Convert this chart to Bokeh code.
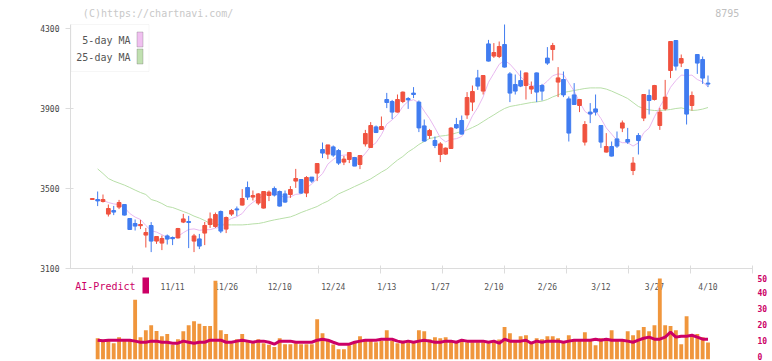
from bokeh.plotting import figure
from bokeh.models import Range1d, FixedTicker, ColumnDataSource, Label, BoxAnnotation, LinearAxis
from bokeh.layouts import column
from bokeh.embed import file_html
from bokeh.resources import INLINE
from bokeh.core.properties import value

# ---------------- data ----------------
idx = list(range(116))
opens = [3445, 3445, 3435, 3372, 3390, 3407, 3420, 3350, 3325, 3314,
         3267, 3315, 3237, 3227, 3263, 3255, 3253, 3332, 3335, 3237,
         3248, 3277, 3320, 3310, 3385, 3297, 3372, 3398, 3417, 3505,
         3457, 3427, 3402, 3465, 3500, 3485, 3473, 3470, 3537, 3545,
         3477, 3557, 3577, 3695, 3672, 3708, 3690, 3632, 3645, 3655,
         3620, 3723, 3705, 3808, 3795, 3945, 3935, 3882, 3935, 3950,
         3977, 3932, 3813, 3765, 3740, 3670, 3672, 3700, 3820, 3840,
         3868, 3932, 4053, 3987, 4223, 4162, 4160, 4220, 4073, 4020,
         4040, 4015, 3997, 4078, 4015, 4152, 4195, 4032, 4045, 3948,
         3968, 3915, 3732, 3882, 3898, 3815, 3682, 3710, 3748, 3802,
         3745, 3590, 3765, 3852, 3965, 3945, 3815, 3898, 4090, 4240,
         4127, 4095, 3915, 4170, 4145, 4027]
highs = [3452, 3485, 3470, 3420, 3413, 3443, 3422, 3352, 3345, 3343,
         3303, 3332, 3260, 3265, 3270, 3260, 3303, 3373, 3363, 3273,
         3273, 3333, 3380, 3380, 3390, 3360, 3397, 3410, 3497, 3535,
         3490, 3477, 3485, 3490, 3510, 3490, 3490, 3512, 3598, 3547,
         3562, 3557, 3625, 3730, 3718, 3715, 3697, 3663, 3680, 3658,
         3665, 3793, 3832, 3815, 3860, 3978, 3943, 3970, 3985, 3957,
         4007, 3940, 3845, 3798, 3760, 3732, 3705, 3807, 3853, 3865,
         3982, 4015, 4093, 4065, 4243, 4227, 4235, 4320, 4082, 4070,
         4090, 4080, 4035, 4080, 4023, 4207, 4228, 4107, 4085, 3960,
         4027, 3948, 3837, 3927, 3970, 3815, 3777, 3735, 3785, 3840,
         3803, 3657, 3777, 3972, 3995, 4018, 3903, 4043, 4237, 4242,
         4170, 4098, 3985, 4170, 4160, 4065]
lows = [3443, 3412, 3430, 3360, 3367, 3397, 3365, 3293, 3290, 3297,
        3205, 3182, 3223, 3192, 3220, 3217, 3250, 3327, 3202, 3182,
        3197, 3217, 3303, 3303, 3277, 3277, 3363, 3362, 3415, 3443,
        3440, 3417, 3400, 3437, 3460, 3410, 3428, 3453, 3503, 3473,
        3457, 3528, 3537, 3652, 3647, 3658, 3618, 3617, 3627, 3612,
        3597, 3710, 3703, 3777, 3795, 3902, 3847, 3880, 3927, 3898,
        3952, 3782, 3735, 3748, 3702, 3632, 3668, 3698, 3798, 3770,
        3848, 3887, 3993, 3970, 4135, 4153, 4152, 4105, 3932, 3970,
        4007, 3945, 3973, 3932, 3940, 4118, 4140, 3957, 3957, 3735,
        3918, 3882, 3715, 3827, 3865, 3703, 3680, 3660, 3703, 3782,
        3723, 3567, 3670, 3837, 3870, 3940, 3793, 3890, 4052, 4090,
        4107, 3820, 3890, 4073, 4023, 4007]
closes = [3450, 3438, 3445, 3400, 3382, 3430, 3367, 3295, 3312, 3320,
          3280, 3237, 3260, 3250, 3247, 3249, 3300, 3348, 3330, 3263,
          3212, 3315, 3348, 3370, 3287, 3355, 3390, 3393, 3450, 3457,
          3465, 3473, 3485, 3482, 3467, 3412, 3432, 3495, 3550, 3477,
          3555, 3537, 3625, 3677, 3718, 3667, 3627, 3647, 3680, 3612,
          3665, 3775, 3815, 3780, 3810, 3930, 3882, 3945, 3982, 3943,
          3970, 3803, 3737, 3790, 3715, 3723, 3702, 3802, 3803, 3772,
          3955, 3985, 4012, 4065, 4137, 4180, 4210, 4107, 3977, 3987,
          4012, 4078, 4010, 3982, 3987, 4127, 4215, 4053, 3968, 3777,
          3920, 3945, 3820, 3873, 3882, 3732, 3710, 3662, 3712, 3828,
          3732, 3627, 3740, 3970, 3940, 4015, 3882, 3957, 4235, 4112,
          4150, 3872, 3965, 4127, 4052, 4022]

ma_idx = list(range(1, 116))
ma5 = [3445, 3440, 3430, 3423, 3419, 3405, 3375, 3357, 3345, 3315,
       3289, 3282, 3269, 3255, 3249, 3261, 3279, 3295, 3298, 3291,
       3294, 3294, 3302, 3306, 3335, 3350, 3359, 3375, 3409, 3431,
       3448, 3466, 3472, 3474, 3464, 3456, 3458, 3471, 3473, 3502,
       3523, 3549, 3574, 3622, 3645, 3663, 3667, 3668, 3647, 3646,
       3676, 3709, 3729, 3769, 3822, 3843, 3869, 3910, 3936, 3944,
       3929, 3887, 3849, 3803, 3754, 3733, 3746, 3749, 3760, 3807,
       3863, 3905, 3958, 4031, 4076, 4121, 4140, 4122, 4092, 4059,
       4032, 4013, 4014, 4014, 4037, 4064, 4073, 4070, 4028, 3987,
       3933, 3886, 3867, 3888, 3850, 3803, 3772, 3740, 3729, 3729,
       3712, 3728, 3779, 3802, 3858, 3909, 3953, 4006, 4040, 4067,
       4065, 4067, 4045, 4033, 4008]
ma25 = [3598, 3575, 3550, 3537, 3527, 3517, 3505, 3492, 3480, 3470,
        3445, 3437, 3425, 3410, 3405, 3395, 3385, 3375, 3362, 3352,
        3340, 3325, 3320, 3318, 3318, 3318, 3318, 3318, 3320, 3323,
        3325, 3330, 3337, 3343, 3348, 3353, 3358, 3368, 3380, 3390,
        3400, 3410, 3425, 3437, 3455, 3473, 3485, 3497, 3510, 3522,
        3535, 3548, 3565, 3582, 3597, 3620, 3642, 3660, 3683, 3700,
        3720, 3735, 3750, 3755, 3762, 3765, 3770, 3778, 3785, 3793,
        3805, 3818, 3835, 3852, 3868, 3885, 3900, 3910, 3915, 3920,
        3925, 3930, 3933, 3937, 3945, 3958, 3968, 3980, 3985, 3990,
        3995, 4000, 4003, 4003, 4003, 3997, 3987, 3975, 3963, 3950,
        3930, 3910, 3900, 3893, 3890, 3890, 3892, 3895, 3900, 3903,
        3897, 3890, 3892, 3897, 3905]

vol_idx = list(range(1, 116))
volume = [11.4, 9.8, 10.4, 8.3, 12.1, 9.8, 10.8, 35.4, 12.1, 16.4,
          19.6, 16.0, 12.7, 14.0, 7.3, 10.8, 15.8, 19.6, 22.1, 20.4,
          19.0, 19.0, 47.3, 16.4, 14.0, 8.3, 10.8, 14.0, 9.8, 8.3,
          10.8, 8.3, 7.3, 6.0, 11.4, 7.7, 7.7, 8.3, 7.7, 7.7,
          7.7, 23.3, 14.6, 10.6, 7.5, 4.6, 4.6, 7.1, 8.9, 12.7,
          9.8, 9.8, 8.9, 9.8, 16.4, 9.8, 8.3, 9.8, 8.9, 8.9,
          16.4, 15.8, 10.8, 12.1, 11.4, 12.1, 9.8, 8.9, 9.8, 8.9,
          8.9, 8.9, 8.9, 8.3, 9.8, 10.6, 18.4, 14.6, 9.8, 12.7,
          13.3, 8.3, 11.4, 10.8, 12.7, 12.7, 11.4, 8.9, 13.3, 9.8,
          9.8, 15.2, 9.8, 7.1, 11.4, 11.4, 16.4, 9.8, 9.8, 15.8,
          13.3, 16.4, 18.4, 15.8, 19.6, 48.7, 19.6, 19.0, 16.4, 7.7,
          25.2, 12.9, 14.0, 12.1, 8.7]
ai_predict = [10.2, 9.8, 10.2, 10.2, 10.2, 10.2, 10.2, 9.6, 8.9, 8.9,
              9.6, 9.6, 8.9, 8.9, 8.3, 8.3, 9.6, 8.9, 8.3, 8.9,
              8.9, 10.2, 10.2, 10.2, 8.9, 8.9, 9.6, 10.2, 9.6, 8.9,
              9.6, 9.6, 8.9, 7.7, 9.6, 9.6, 9.6, 8.9, 8.9, 8.9,
              8.9, 10.2, 10.8, 10.2, 8.9, 7.7, 7.7, 7.7, 8.9, 9.6,
              10.2, 10.2, 10.2, 10.8, 10.8, 10.8, 9.6, 8.9, 9.6, 8.9,
              9.6, 10.2, 9.6, 8.9, 8.9, 9.6, 9.6, 8.9, 10.2, 9.6,
              9.6, 9.6, 9.6, 8.9, 9.6, 8.3, 10.8, 9.6, 9.6, 9.6,
              10.2, 8.3, 9.6, 8.9, 9.6, 9.6, 9.6, 8.9, 9.6, 10.2,
              10.2, 10.2, 10.2, 10.8, 10.2, 10.8, 10.2, 10.2, 10.2, 9.6,
              8.9, 10.2, 11.4, 12.1, 10.8, 10.8, 12.1, 15.2, 12.1, 12.7,
              12.7, 13.3, 12.1, 10.8, 10.8]

date_idx = [15, 25, 35, 45, 55, 65, 75, 85, 95, 105, 115]
date_labels = ["11/11", "11/26", "12/10", "12/24", "1/13", "1/27",
               "2/10", "2/26", "3/12", "3/27", "4/10"]
price_ticks = [3100, 3500, 3900, 4300]
vol_ticks = [0, 10, 20, 30, 40, 50]
copyright_text = "(C)https://chartnavi.com/"
code_text = "8795"

# ---------------- layout helpers (pixel geometry) ----------------
W = 772
PX = 5.354               # px per trading day
XS, XE = -4.07, 123.31   # x range (frame 70..752 px)
MONO = "DejaVu Sans Mono"
UP, DOWN = "#f0523f", "#407cf0"
VS = -1.875              # volume range start (frame bottom y=359, 0 at y=356)

def X(px):               # canvas px -> x data
    return XS + (px - 70) / PX

def Y1(py):              # canvas px -> price (top panel, frame 20..268)
    return 4340 - (py - 20) * 5.0

def Y2(py):              # canvas px -> volume (bottom panel, frame 274..359)
    return VS + (359 - py) / 1.6

xr = Range1d(XS, XE)

# ---------------- header strip ----------------
p0 = figure(width=W, height=20, x_range=Range1d(0, W), y_range=Range1d(20, 0),
            output_backend="svg", toolbar_location=None,
            x_axis_location=None, y_axis_location=None,
            min_border_left=0, min_border_right=0, min_border_top=0,
            min_border_bottom=0)
p0.outline_line_color = None
p0.grid.visible = False
p0.text(x=[14], y=[12.5], text=[copyright_text], text_align="left",
        text_baseline="middle", text_font=value(MONO), text_font_size="10px",
        text_color="#c8c8c8")
p0.text(x=[757], y=[12.5], text=[code_text], text_align="right",
        text_baseline="middle", text_font=value(MONO), text_font_size="10px",
        text_color="#c0c0c0")

# ---------------- top: candles ----------------
p1 = figure(width=W, height=254, x_range=xr, y_range=Range1d(3100, 4340),
            output_backend="svg", toolbar_location=None,
            min_border_left=70, min_border_right=20, min_border_top=0,
            min_border_bottom=6)
p1.outline_line_color = None
p1.grid.visible = False
p1.background_fill_color = "white"
p1.border_fill_color = "white"

ya = p1.yaxis[0]
ya.ticker = FixedTicker(ticks=price_ticks)
ya.bounds = (3100, Y1(24))
ya.axis_line_color = "#dcdcdc"
ya.major_tick_line_color = "#dcdcdc"
ya.minor_tick_line_color = None
ya.major_tick_in = 3
ya.major_tick_out = 5
ya.major_label_standoff = 6
ya.major_label_text_font = MONO
ya.major_label_text_font_size = "8px"
ya.major_label_text_color = "#444444"

xa = p1.xaxis[0]
step = (XE - XS) / 11
xticks = [XS + k * step for k in range(1, 12)]
xa.ticker = FixedTicker(ticks=xticks)
xa.major_label_overrides = {t: "" for t in xticks}
xa.axis_line_color = "#dcdcdc"
xa.major_tick_line_color = "#dcdcdc"
xa.minor_tick_line_color = None
xa.major_tick_in = 3
xa.major_tick_out = 5
xa.major_label_text_font_size = "0px"
xa.major_label_standoff = 0

colors = [UP if c >= o else DOWN for o, c in zip(opens, closes)]
src = ColumnDataSource(dict(
    x=idx, high=highs, low=lows,
    top=[max(o, c) for o, c in zip(opens, closes)],
    bottom=[min(o, c) for o, c in zip(opens, closes)],
    color=colors))

p1.line(ma_idx, ma25, line_color="#b8dfa8", line_width=1)
p1.line(ma_idx, ma5, line_color="#e8b8f0", line_width=1)
p1.segment(x0="x", y0="low", x1="x", y1="high", line_color="color",
           line_width=1, source=src)
p1.vbar(x="x", width=0.7, top="top", bottom="bottom", fill_color="color",
        line_color="color", line_width=1, source=src)

# legend box
p1.add_layout(BoxAnnotation(left=X(70.5), right=X(148.5), top=Y1(24), bottom=Y1(71),
                            fill_color="white", fill_alpha=1.0,
                            line_color="#e0e0e0", line_width=1))
for txt, ycen, fc in [("5-day MA", 39, "#f0c0f0"), ("25-day MA", 56, "#c0e0b0")]:
    p1.add_layout(Label(x=X(130), y=Y1(ycen + 1), text=txt, text_align="right",
                        text_baseline="middle", text_font=MONO,
                        text_font_size="10px", text_color="#555555"))
    p1.add_layout(BoxAnnotation(left=X(136.5), right=X(142.5),
                                top=Y1(ycen - 7.5), bottom=Y1(ycen + 7.5),
                                fill_color=fc, fill_alpha=1.0,
                                line_color="#666666", line_width=1))

# ---------------- bottom: volume + AI predict ----------------
p2 = figure(width=W, height=87, x_range=xr, y_range=Range1d(VS, VS + 85 / 1.6),
            output_backend="svg", toolbar_location=None,
            x_axis_location=None, y_axis_location=None,
            min_border_left=70, min_border_right=20, min_border_top=0,
            min_border_bottom=2)
p2.outline_line_color = None
p2.grid.visible = False
p2.background_fill_color = "white"
p2.border_fill_color = "white"

ra = LinearAxis(ticker=FixedTicker(ticks=vol_ticks))
ra.axis_line_color = None
ra.major_tick_line_color = None
ra.minor_tick_line_color = None
ra.major_tick_out = 0
ra.major_tick_in = 0
ra.major_label_standoff = 5
ra.major_label_text_font = MONO
ra.major_label_text_font_size = "8px"
ra.major_label_text_font_style = "bold"
ra.major_label_text_color = "#cc0066"
p2.add_layout(ra, "right")

dsrc = ColumnDataSource(dict(x=date_idx, text=date_labels))
p2.text(x="x", y=Y2(286.5), text="text", source=dsrc, text_align="center",
        text_baseline="middle", text_font=value(MONO), text_font_size="8px",
        text_color="#555555")

# bars stand on the panel floor, as in the reference
p2.vbar(x=vol_idx, top=volume, bottom=VS, width=0.72, fill_color="#f0963c",
        line_color=None)
p2.line(vol_idx, ai_predict, line_color="#cc0066", line_width=3)

p2.add_layout(Label(x=X(135), y=Y2(286), text="AI-Predict", text_align="right",
                    text_baseline="middle", text_font=MONO,
                    text_font_size="10px", text_color="#cc0066"))
p2.add_layout(BoxAnnotation(left=X(142), right=X(148.5), top=Y2(277), bottom=Y2(293),
                            fill_color="#cc0066", fill_alpha=1.0, line_color=None))

layout = column(p0, p1, p2, spacing=0)
open("out.html", "w").write(file_html(layout, INLINE))
